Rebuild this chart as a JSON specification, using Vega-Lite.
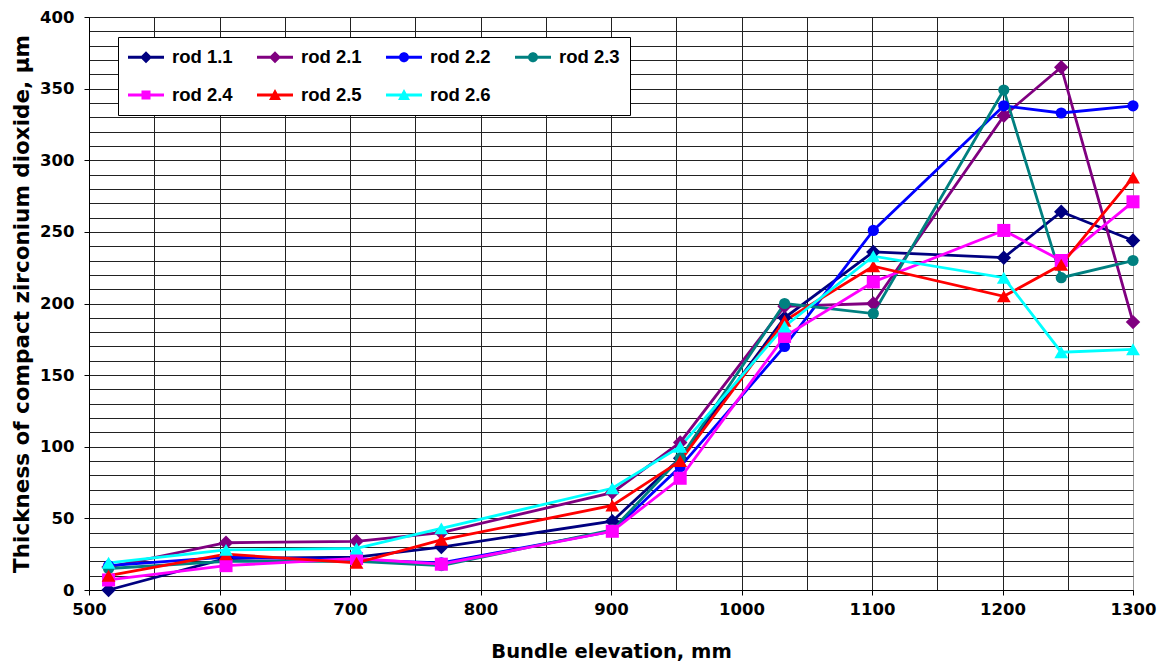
{
  "$schema": "https://vega.github.io/schema/vega-lite/v6.json",
  "width": 1044,
  "height": 573,
  "autosize": {"type": "none"},
  "padding": {"left": 89, "top": 17, "right": 27, "bottom": 78},
  "background": "white",
  "config": {
    "view": {"stroke": "#999", "strokeWidth": 1},
    "font": "DejaVu Sans",
    "axis": {
      "labelFont": "DejaVu Sans", "labelFontWeight": "bold", "labelFontSize": 16.5, "labelColor": "#000",
      "titleFont": "DejaVu Sans", "titleFontWeight": "bold", "titleFontSize": 19.5, "titleColor": "#000",
      "domainColor": "#000", "tickColor": "#000", "tickSize": 5, "gridWidth": 1
    }
  },
  "data": {"values": [
    {"rod": "rod 1.1", "x": 515, "y": 0}, {"rod": "rod 1.1", "x": 605, "y": 22}, {"rod": "rod 1.1", "x": 705, "y": 23}, {"rod": "rod 1.1", "x": 770, "y": 30}, {"rod": "rod 1.1", "x": 901, "y": 48}, {"rod": "rod 1.1", "x": 953, "y": 92}, {"rod": "rod 1.1", "x": 1033, "y": 190}, {"rod": "rod 1.1", "x": 1101, "y": 236}, {"rod": "rod 1.1", "x": 1201, "y": 232}, {"rod": "rod 1.1", "x": 1245, "y": 264}, {"rod": "rod 1.1", "x": 1300, "y": 244},
    {"rod": "rod 2.1", "x": 515, "y": 16}, {"rod": "rod 2.1", "x": 605, "y": 33}, {"rod": "rod 2.1", "x": 705, "y": 34}, {"rod": "rod 2.1", "x": 770, "y": 40}, {"rod": "rod 2.1", "x": 901, "y": 68}, {"rod": "rod 2.1", "x": 953, "y": 103}, {"rod": "rod 2.1", "x": 1033, "y": 198}, {"rod": "rod 2.1", "x": 1101, "y": 200}, {"rod": "rod 2.1", "x": 1201, "y": 331}, {"rod": "rod 2.1", "x": 1245, "y": 365}, {"rod": "rod 2.1", "x": 1300, "y": 187},
    {"rod": "rod 2.2", "x": 515, "y": 17}, {"rod": "rod 2.2", "x": 605, "y": 23}, {"rod": "rod 2.2", "x": 705, "y": 21}, {"rod": "rod 2.2", "x": 770, "y": 19}, {"rod": "rod 2.2", "x": 901, "y": 41}, {"rod": "rod 2.2", "x": 953, "y": 86}, {"rod": "rod 2.2", "x": 1033, "y": 170}, {"rod": "rod 2.2", "x": 1101, "y": 251}, {"rod": "rod 2.2", "x": 1201, "y": 338}, {"rod": "rod 2.2", "x": 1245, "y": 333}, {"rod": "rod 2.2", "x": 1300, "y": 338},
    {"rod": "rod 2.3", "x": 515, "y": 15}, {"rod": "rod 2.3", "x": 605, "y": 20}, {"rod": "rod 2.3", "x": 705, "y": 20}, {"rod": "rod 2.3", "x": 770, "y": 17}, {"rod": "rod 2.3", "x": 901, "y": 42}, {"rod": "rod 2.3", "x": 953, "y": 92}, {"rod": "rod 2.3", "x": 1033, "y": 200}, {"rod": "rod 2.3", "x": 1101, "y": 193}, {"rod": "rod 2.3", "x": 1201, "y": 349}, {"rod": "rod 2.3", "x": 1245, "y": 218}, {"rod": "rod 2.3", "x": 1300, "y": 230},
    {"rod": "rod 2.4", "x": 515, "y": 7}, {"rod": "rod 2.4", "x": 605, "y": 17}, {"rod": "rod 2.4", "x": 705, "y": 22}, {"rod": "rod 2.4", "x": 770, "y": 18}, {"rod": "rod 2.4", "x": 901, "y": 41}, {"rod": "rod 2.4", "x": 953, "y": 78}, {"rod": "rod 2.4", "x": 1033, "y": 177}, {"rod": "rod 2.4", "x": 1101, "y": 215}, {"rod": "rod 2.4", "x": 1201, "y": 251}, {"rod": "rod 2.4", "x": 1245, "y": 230}, {"rod": "rod 2.4", "x": 1300, "y": 271},
    {"rod": "rod 2.5", "x": 515, "y": 10}, {"rod": "rod 2.5", "x": 605, "y": 25}, {"rod": "rod 2.5", "x": 705, "y": 19}, {"rod": "rod 2.5", "x": 770, "y": 35}, {"rod": "rod 2.5", "x": 901, "y": 59}, {"rod": "rod 2.5", "x": 953, "y": 90}, {"rod": "rod 2.5", "x": 1033, "y": 188}, {"rod": "rod 2.5", "x": 1101, "y": 226}, {"rod": "rod 2.5", "x": 1201, "y": 205}, {"rod": "rod 2.5", "x": 1245, "y": 227}, {"rod": "rod 2.5", "x": 1300, "y": 288},
    {"rod": "rod 2.6", "x": 515, "y": 19}, {"rod": "rod 2.6", "x": 605, "y": 28}, {"rod": "rod 2.6", "x": 705, "y": 29}, {"rod": "rod 2.6", "x": 770, "y": 43}, {"rod": "rod 2.6", "x": 901, "y": 71}, {"rod": "rod 2.6", "x": 953, "y": 100}, {"rod": "rod 2.6", "x": 1033, "y": 184}, {"rod": "rod 2.6", "x": 1101, "y": 233}, {"rod": "rod 2.6", "x": 1201, "y": 218}, {"rod": "rod 2.6", "x": 1245, "y": 166}, {"rod": "rod 2.6", "x": 1300, "y": 168}
  ]},
  "encoding": {
    "x": {
      "field": "x", "type": "quantitative",
      "scale": {"domain": [500, 1300], "nice": false, "zero": false},
      "axis": {
        "title": "Bundle elevation, mm",
        "values": [500, 550, 600, 650, 700, 750, 800, 850, 900, 950, 1000, 1050, 1100, 1150, 1200, 1250, 1300],
        "labelExpr": "datum.value % 100 === 0 ? datum.label : ''",
        "format": "d",
        "tickOpacity": {"condition": {"test": "datum.value % 100 === 0", "value": 1}, "value": 0},
        "grid": true,
        "gridColor": {"condition": {"test": "datum.value === 1300", "value": "#999"}, "value": "#222"},
        "labelPadding": 6,
        "titlePadding": 25,
        "labelFlush": false
      }
    },
    "y": {
      "field": "y", "type": "quantitative",
      "scale": {"domain": [0, 400], "nice": false},
      "axis": {
        "title": "Thickness of compact zirconium dioxide, µm",
        "titleFontSize": 21.5,
        "values": [0, 10, 20, 30, 40, 50, 60, 70, 80, 90, 100, 110, 120, 130, 140, 150, 160, 170, 180, 190, 200, 210, 220, 230, 240, 250, 260, 270, 280, 290, 300, 310, 320, 330, 340, 350, 360, 370, 380, 390, 400],
        "labelExpr": "datum.value % 50 === 0 ? datum.label : ''",
        "format": "d",
        "tickOpacity": {"condition": {"test": "datum.value % 50 === 0", "value": 1}, "value": 0},
        "grid": true,
        "gridColor": "#222",
        "labelPadding": 10,
        "titlePadding": 6,
        "labelFlush": false
      }
    },
    "color": {
      "field": "rod", "type": "nominal",
      "scale": {
        "domain": ["rod 1.1", "rod 2.1", "rod 2.2", "rod 2.3", "rod 2.4", "rod 2.5", "rod 2.6"],
        "range": ["#000080", "#800080", "#0000FF", "#008080", "#FF00FF", "#FF0000", "#00FFFF"]
      },
      "legend": null
    }
  },
  "layer": [
    {
      "mark": {"type": "line", "strokeWidth": 2.8},
      "encoding": {
        "color": {
          "field": "rod", "type": "nominal",
          "legend": {
            "title": null,
            "orient": "none",
            "legendX": 29,
            "legendY": 20,
            "direction": "horizontal",
            "columns": 4,
            "fillColor": "white",
            "strokeColor": "#000",
            "padding": 10,
            "rowPadding": 18,
            "columnPadding": 24,
            "symbolSize": 400,
            "labelOffset": 24,
            "labelFont": "Liberation Sans",
            "labelFontWeight": "bold",
            "labelFontSize": 18.5,
            "labelColor": "#000",
            "encode": {
              "symbols": {
                "update": {
                  "shape": {"signal": "(datum.value === 'rod 1.1' || datum.value === 'rod 2.1') ? 'M-1,-0.15H2.6V0.15H-1Z M0.8,-0.6L1.4,0L0.8,0.6L0.2,0Z' : (datum.value === 'rod 2.2' || datum.value === 'rod 2.3') ? 'M-1,-0.15H2.6V0.15H-1Z M0.3,0A0.5,0.5 0 1,1 1.3,0A0.5,0.5 0 1,1 0.3,0Z' : datum.value === 'rod 2.4' ? 'M-1,-0.15H2.6V0.15H-1Z M0.35,-0.45H1.25V0.45H0.35Z' : 'M-1,-0.15H2.6V0.15H-1Z M0.8,-0.6L1.4,0.5L0.2,0.5Z'"},
                  "fill": {"scale": "color", "field": "value"},
                  "stroke": {"value": "transparent"},
                  "strokeWidth": {"value": 0},
                  "opacity": {"value": 1}
                }
              }
            }
          }
        }
      }
    },
    {
      "transform": [{"filter": {"field": "rod", "oneOf": ["rod 1.1", "rod 2.1"]}}],
      "mark": {"type": "point", "shape": "diamond", "filled": true, "opacity": 1, "size": 210}
    },
    {
      "transform": [{"filter": {"field": "rod", "oneOf": ["rod 2.2", "rod 2.3"]}}],
      "mark": {"type": "point", "shape": "circle", "filled": true, "opacity": 1, "size": 125}
    },
    {
      "transform": [{"filter": {"field": "rod", "oneOf": ["rod 2.4"]}}],
      "mark": {"type": "point", "shape": "square", "filled": true, "opacity": 1, "size": 170}
    },
    {
      "transform": [{"filter": {"field": "rod", "oneOf": ["rod 2.5", "rod 2.6"]}}],
      "mark": {"type": "point", "shape": "triangle-up", "filled": true, "opacity": 1, "size": 190}
    }
  ]
}
